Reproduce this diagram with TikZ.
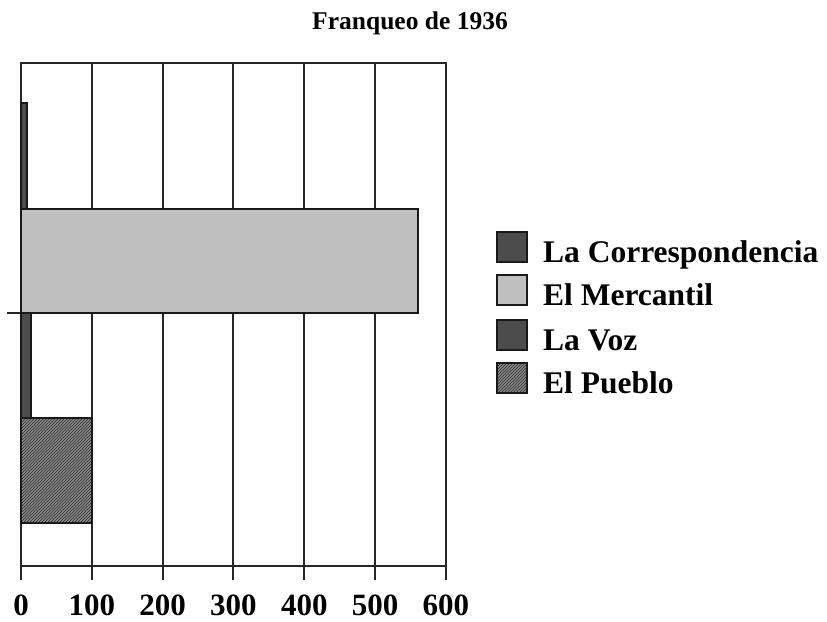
\documentclass[tikz,border=0pt]{standalone}
\usepackage{fontspec}
\setmainfont{Liberation Serif}
\usetikzlibrary{patterns}
\begin{document}
\begin{tikzpicture}[x=1pt,y=-1pt,
  gridline/.style={line width=2pt, black!85},
  barbox/.style={draw=black!90, line width=2pt},
  darkfill/.style={fill=black!70},
  lightfill/.style={fill=black!25},
  hatchfill/.style={fill=black!45},
  hatchover/.style={pattern=north east lines, pattern color=black!85},
  ticklab/.style={font=\fontsize{31}{36}\selectfont\bfseries, inner sep=0pt, anchor=base},
  leglab/.style={font=\fontsize{31.5}{36}\selectfont\bfseries, inner sep=0pt, anchor=base west},
  titlelab/.style={font=\fontsize{25.5}{28}\selectfont\bfseries, inner sep=0pt, anchor=base}]
\useasboundingbox (0,0) rectangle (827,621);
% title
\node[titlelab] (title) at (410,29) {Franqueo de 1936};
% grid lines
\foreach \v in {1,...,5} {
  \draw[gridline] ({21+\v*70.83},63) -- ({21+\v*70.83},566);
}
\draw[gridline] (21,63) rectangle (446,566);
% ticks and labels
\foreach \v/\t in {0/0,1/100,2/200,3/300,4/400,5/500,6/600} {
  \draw[gridline] ({21+\v*70.83},566) -- ({21+\v*70.83},580);
  \node[ticklab] (tick\v) at ({21+\v*70.83},615) {\t};
}
% category tick
\draw[gridline] (7,313) -- (21,313);
% bars
\draw[barbox, darkfill] (21,103) rectangle (27,209);
\draw[barbox, lightfill] (21,209) rectangle (418,313);
\draw[barbox, darkfill] (21,313) rectangle (31,418);
\fill[hatchfill] (21,418) rectangle (92,523);
\fill[hatchover] (21,418) rectangle (92,523);
\draw[barbox] (21,418) rectangle (92,523);
% legend
\draw[barbox, darkfill] (497,232) rectangle (527,262);
\node[leglab] (l1) at (543,262) {La Correspondencia};
\draw[barbox, lightfill] (497,275) rectangle (527,305);
\node[leglab] (l2) at (543,305) {El Mercantil};
\draw[barbox, darkfill] (497,320) rectangle (527,350);
\node[leglab] (l3) at (543,350) {La Voz};
\fill[hatchfill] (497,363) rectangle (527,393);
\fill[hatchover] (497,363) rectangle (527,393);
\draw[barbox] (497,363) rectangle (527,393);
\node[leglab] (l4) at (543,393) {El Pueblo};
\end{tikzpicture}
\end{document}
